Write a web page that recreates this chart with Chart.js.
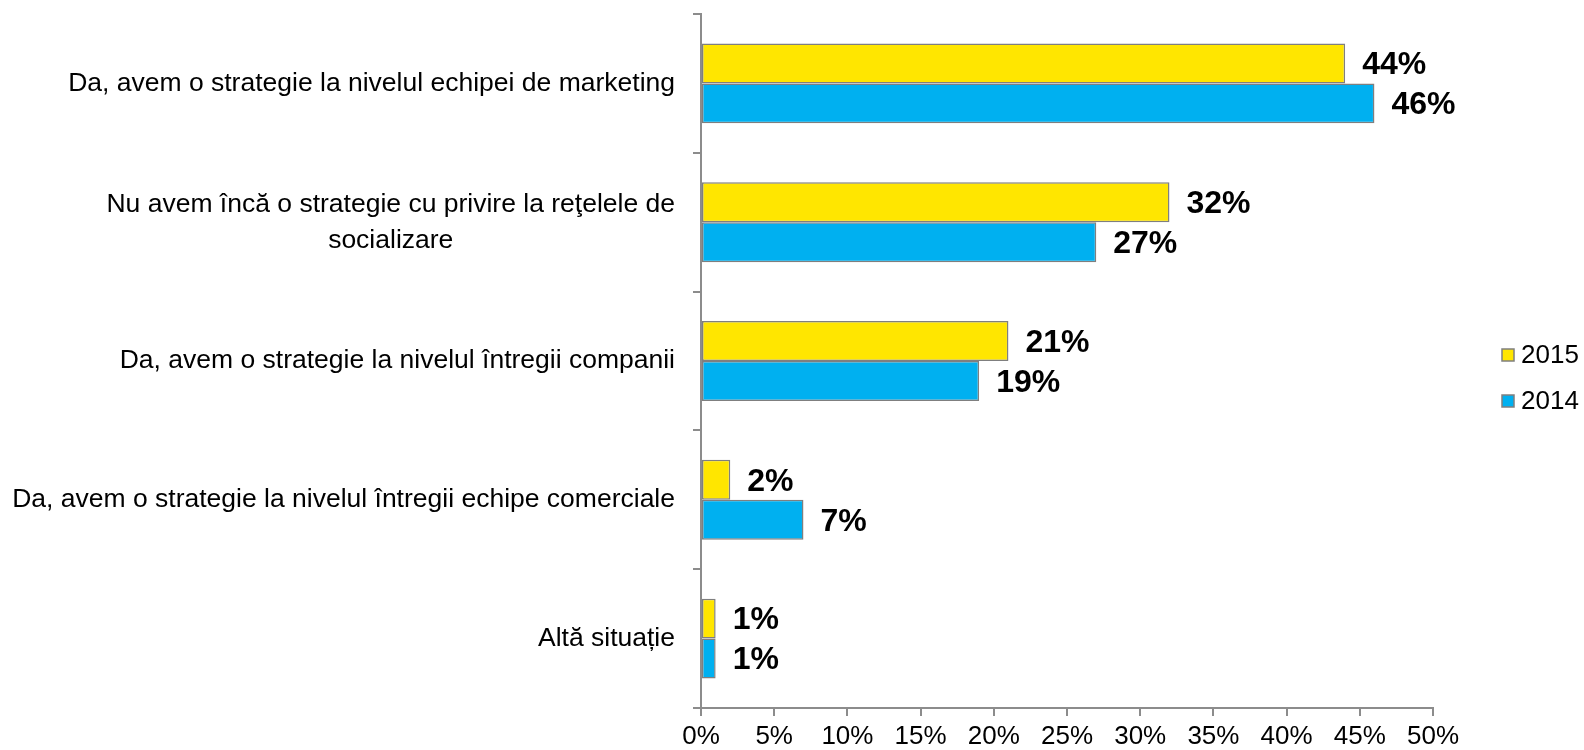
<!DOCTYPE html>
<html lang="ro">
<head>
<meta charset="utf-8">
<title>Strategie rețele de socializare 2014–2015</title>
<script src="https://cdn.jsdelivr.net/npm/chart.js@4.4.1/dist/chart.umd.min.js"></script>
<style>
    html, body { margin: 0; padding: 0; background: #ffffff; }
    #wrap { width: 1584px; height: 750px; position: relative; }
</style>
</head>
<body>
<div id="wrap"><canvas id="chart" width="1584" height="750"></canvas></div>
<script>
// === Données ===
const categories = [
    ['Da, avem o strategie la nivelul echipei de marketing'],
    ['Nu avem încă o strategie cu privire la reţelele de', 'socializare'],
    ['Da, avem o strategie la nivelul întregii companii'],
    ['Da, avem o strategie la nivelul întregii echipe comerciale'],
    ['Altă situație']
];
const values2015 = [44, 32, 21, 2, 1];
const values2014 = [46, 27, 19, 7, 1];
const xTicks = [0, 5, 10, 15, 20, 25, 30, 35, 40, 45, 50];

const FONT = "'Liberation Sans', Arial, sans-serif";
const AXIS_GREY = '#8c8c8c';
const BAR_BORDER = '#7f7f7f';

// Étiquettes de valeur à droite des barres
const valueLabels = {
    id: 'valueLabels',
    afterDatasetsDraw(chart) {
        const ctx = chart.ctx;
        ctx.save();
        ctx.font = 'bold 32px ' + FONT;
        ctx.fillStyle = '#000000';
        ctx.textAlign = 'left';
        ctx.textBaseline = 'middle';
        chart.data.datasets.forEach((ds, i) => {
            chart.getDatasetMeta(i).data.forEach((bar, j) => {
                ctx.fillText(ds.data[j] + '%', bar.x + 17, bar.y + 2);
            });
        });
        ctx.restore();
    }
};

// Libellés des catégories : bloc aligné à droite, lignes centrées
const categoryLabels = {
    id: 'categoryLabels',
    afterDraw(chart) {
        const ctx = chart.ctx;
        const yScale = chart.scales.y;
        const right = chart.chartArea.left - 26;
        const lineHeight = 36;
        ctx.save();
        ctx.font = '26.5px ' + FONT;
        ctx.fillStyle = '#000000';
        ctx.textAlign = 'center';
        ctx.textBaseline = 'middle';
        categories.forEach((lines, i) => {
            const yc = yScale.getPixelForValue(i);
            const blockW = Math.max(...lines.map(l => ctx.measureText(l).width));
            const cx = right - blockW / 2;
            const y0 = yc - (lines.length - 1) * lineHeight / 2;
            lines.forEach((l, k) => ctx.fillText(l, cx, y0 + k * lineHeight));
        });
        ctx.restore();
    }
};

// Légende à droite, carrés bordés de gris
const sideLegend = {
    id: 'sideLegend',
    afterDraw(chart) {
        const ctx = chart.ctx;
        const x = chart.chartArea.right + 69;
        const yMid = (chart.chartArea.top + chart.chartArea.bottom) / 2 + 17;
        const step = 46;
        const items = chart.data.datasets;
        ctx.save();
        ctx.font = '26px ' + FONT;
        ctx.textAlign = 'left';
        ctx.textBaseline = 'middle';
        items.forEach((ds, i) => {
            const y = yMid + (i - (items.length - 1) / 2) * step;
            ctx.fillStyle = ds.backgroundColor;
            ctx.fillRect(x, y - 6, 12, 12);
            ctx.strokeStyle = BAR_BORDER;
            ctx.lineWidth = 1.5;
            ctx.strokeRect(x, y - 6, 12, 12);
            ctx.fillStyle = '#000000';
            ctx.fillText(ds.label, x + 19, y + 1);
        });
        ctx.restore();
    }
};

new Chart(document.getElementById('chart'), {
    type: 'bar',
    data: {
        labels: categories.map(c => c.join(' ')),
        datasets: [
            {
                label: '2015',
                data: values2015,
                backgroundColor: '#FFE600',
                borderColor: BAR_BORDER,
                borderWidth: 1.5,
                borderSkipped: false,
                categoryPercentage: 0.576,
                barPercentage: 1
            },
            {
                label: '2014',
                data: values2014,
                backgroundColor: '#00B0F0',
                borderColor: BAR_BORDER,
                borderWidth: 1.5,
                borderSkipped: false,
                categoryPercentage: 0.576,
                barPercentage: 1
            }
        ]
    },
    options: {
        indexAxis: 'y',
        responsive: false,
        animation: false,
        layout: { padding: { top: 14, right: 151, left: 0, bottom: 0 } },
        plugins: {
            legend: { display: false },
            tooltip: { enabled: false }
        },
        scales: {
            x: {
                min: 0,
                max: 50,
                afterBuildTicks(scale) {
                    scale.ticks = xTicks.map(v => ({ value: v }));
                },
                afterFit(scale) { scale.height = 42; },
                border: { color: AXIS_GREY, width: 2 },
                grid: {
                    drawOnChartArea: false,
                    drawTicks: true,
                    tickLength: 8,
                    color: AXIS_GREY,
                    lineWidth: 2
                },
                ticks: {
                    padding: 5,
                    color: '#000000',
                    font: { family: FONT, size: 26 },
                    callback: v => v + '%'
                }
            },
            y: {
                afterFit(scale) { scale.width = 701; },
                border: { color: AXIS_GREY, width: 2 },
                grid: {
                    offset: true,
                    drawOnChartArea: false,
                    drawTicks: true,
                    tickLength: 8,
                    color: AXIS_GREY,
                    lineWidth: 2
                },
                ticks: { display: false }
            }
        }
    },
    plugins: [valueLabels, categoryLabels, sideLegend]
});
</script>
</body>
</html>
